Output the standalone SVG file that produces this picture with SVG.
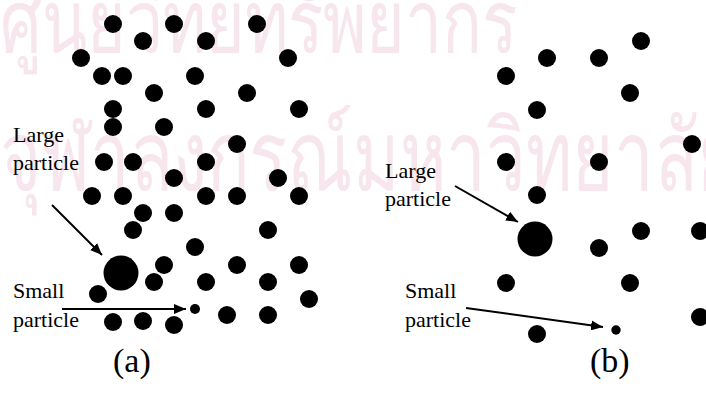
<svg xmlns="http://www.w3.org/2000/svg" width="706" height="403" viewBox="0 0 706 403">
<style>
.wm{font-family:"Noto Sans","DejaVu Sans",sans-serif;fill:#f7e6ed;}
.lbl{font-family:"Liberation Serif","Times New Roman",serif;font-size:22px;fill:#000;}
.cap{font-family:"Liberation Serif","Times New Roman",serif;font-size:34px;fill:#000;}
.d{fill:#000;}
.conn{stroke:#000;stroke-width:2;fill:none;marker-end:url(#ah);}
</style>
<defs>
<marker id="ah" viewBox="0 0 12 10" refX="12" refY="5" markerWidth="12" markerHeight="10" markerUnits="userSpaceOnUse" orient="auto">
<path d="M0,0 L12,5 L0,10 Z" fill="#000"/>
</marker>
</defs>
<rect width="706" height="403" fill="#fff"/>
<g id="watermark">
<text class="wm" font-size="66" transform="translate(0,52) scale(1,1.3)">ศูนย์วิทยทรัพยากร</text>
<text class="wm" font-size="72" transform="translate(0,190) scale(0.98,1.35)">จุฬาลงกรณ์มหาวิทยาลัย</text>
</g>
<g id="panel-a">
<g id="a-dots">
<circle class="d" cx="113" cy="24" r="9"/><circle class="d" cx="174" cy="24" r="9"/><circle class="d" cx="257" cy="24" r="9"/>
<circle class="d" cx="143" cy="41" r="9"/><circle class="d" cx="206" cy="41" r="9"/>
<circle class="d" cx="81" cy="58" r="9"/><circle class="d" cx="288" cy="58" r="9"/>
<circle class="d" cx="102" cy="76" r="9"/><circle class="d" cx="123" cy="76" r="9"/><circle class="d" cx="195" cy="76" r="9"/>
<circle class="d" cx="154" cy="93" r="9"/><circle class="d" cx="247" cy="93" r="9"/>
<circle class="d" cx="113" cy="109" r="9"/><circle class="d" cx="206" cy="109" r="9"/><circle class="d" cx="299" cy="109" r="9"/>
<circle class="d" cx="113" cy="127" r="9"/><circle class="d" cx="164" cy="127" r="9"/>
<circle class="d" cx="237" cy="144" r="9"/>
<circle class="d" cx="104" cy="162" r="9"/><circle class="d" cx="133" cy="162" r="9"/><circle class="d" cx="206" cy="162" r="9"/>
<circle class="d" cx="174" cy="178" r="9"/><circle class="d" cx="278" cy="178" r="9"/>
<circle class="d" cx="92" cy="196" r="9"/><circle class="d" cx="123" cy="196" r="9"/><circle class="d" cx="206" cy="196" r="9"/><circle class="d" cx="237" cy="196" r="9"/><circle class="d" cx="299" cy="196" r="9"/>
<circle class="d" cx="143" cy="213" r="9"/><circle class="d" cx="174" cy="213" r="9"/>
<circle class="d" cx="133" cy="230" r="9"/><circle class="d" cx="268" cy="230" r="9"/>
<circle class="d" cx="195" cy="247" r="9"/>
<circle class="d" cx="164" cy="265" r="9"/><circle class="d" cx="237" cy="265" r="9"/><circle class="d" cx="299" cy="265" r="9"/>
<circle class="d" cx="154" cy="282" r="9"/><circle class="d" cx="206" cy="282" r="9"/><circle class="d" cx="268" cy="282" r="9"/>
<circle class="d" cx="98" cy="294" r="9"/><circle class="d" cx="309" cy="299" r="9"/>
<circle class="d" cx="113" cy="322" r="9"/><circle class="d" cx="143" cy="321" r="9"/><circle class="d" cx="174" cy="325" r="9"/>
<circle class="d" cx="227" cy="315" r="9"/><circle class="d" cx="268" cy="315" r="9"/>
</g>
<g id="a-large"><circle class="d" cx="121" cy="273" r="17.5"/></g>
<g id="a-small"><circle class="d" cx="195" cy="309" r="5"/></g>
<g id="a-label-large"><text class="lbl" x="13" y="142">Large</text><text class="lbl" x="13" y="170">particle</text></g>
<g id="a-label-small"><text class="lbl" x="13" y="298">Small</text><text class="lbl" x="13" y="327">particle</text></g>
<g id="a-caption"><text class="cap" x="113" y="372">(a)</text></g>
</g>
<g id="panel-b">
<g id="b-dots">
<circle class="d" cx="641" cy="41" r="9"/><circle class="d" cx="547" cy="58" r="9"/><circle class="d" cx="599" cy="58" r="9"/>
<circle class="d" cx="506" cy="76" r="9"/><circle class="d" cx="630" cy="93" r="9"/><circle class="d" cx="537" cy="110" r="9"/>
<circle class="d" cx="692" cy="144" r="9"/><circle class="d" cx="506" cy="162" r="9"/><circle class="d" cx="599" cy="162" r="9"/>
<circle class="d" cx="537" cy="195" r="9"/><circle class="d" cx="641" cy="231" r="9"/><circle class="d" cx="700" cy="231" r="9"/>
<circle class="d" cx="599" cy="248" r="9"/><circle class="d" cx="506" cy="283" r="9"/><circle class="d" cx="630" cy="283" r="9"/>
<circle class="d" cx="700" cy="317" r="9"/><circle class="d" cx="537" cy="334" r="9"/>
</g>
<g id="b-large"><circle class="d" cx="535" cy="239" r="17.5"/></g>
<g id="b-small"><circle class="d" cx="616" cy="330" r="4.7"/></g>
<g id="b-label-large"><text class="lbl" x="385" y="178">Large</text><text class="lbl" x="385" y="206">particle</text></g>
<g id="b-label-small"><text class="lbl" x="405" y="298">Small</text><text class="lbl" x="405" y="327">particle</text></g>
<g id="b-caption"><text class="cap" x="590" y="372">(b)</text></g>
</g>
<g id="connectors">
<line class="conn" x1="52" y1="205" x2="102" y2="255"/>
<line class="conn" x1="62" y1="309" x2="186" y2="309"/>
<line class="conn" x1="455" y1="186" x2="518" y2="222"/>
<line class="conn" x1="466" y1="308" x2="603" y2="327"/>
</g>
</svg>
